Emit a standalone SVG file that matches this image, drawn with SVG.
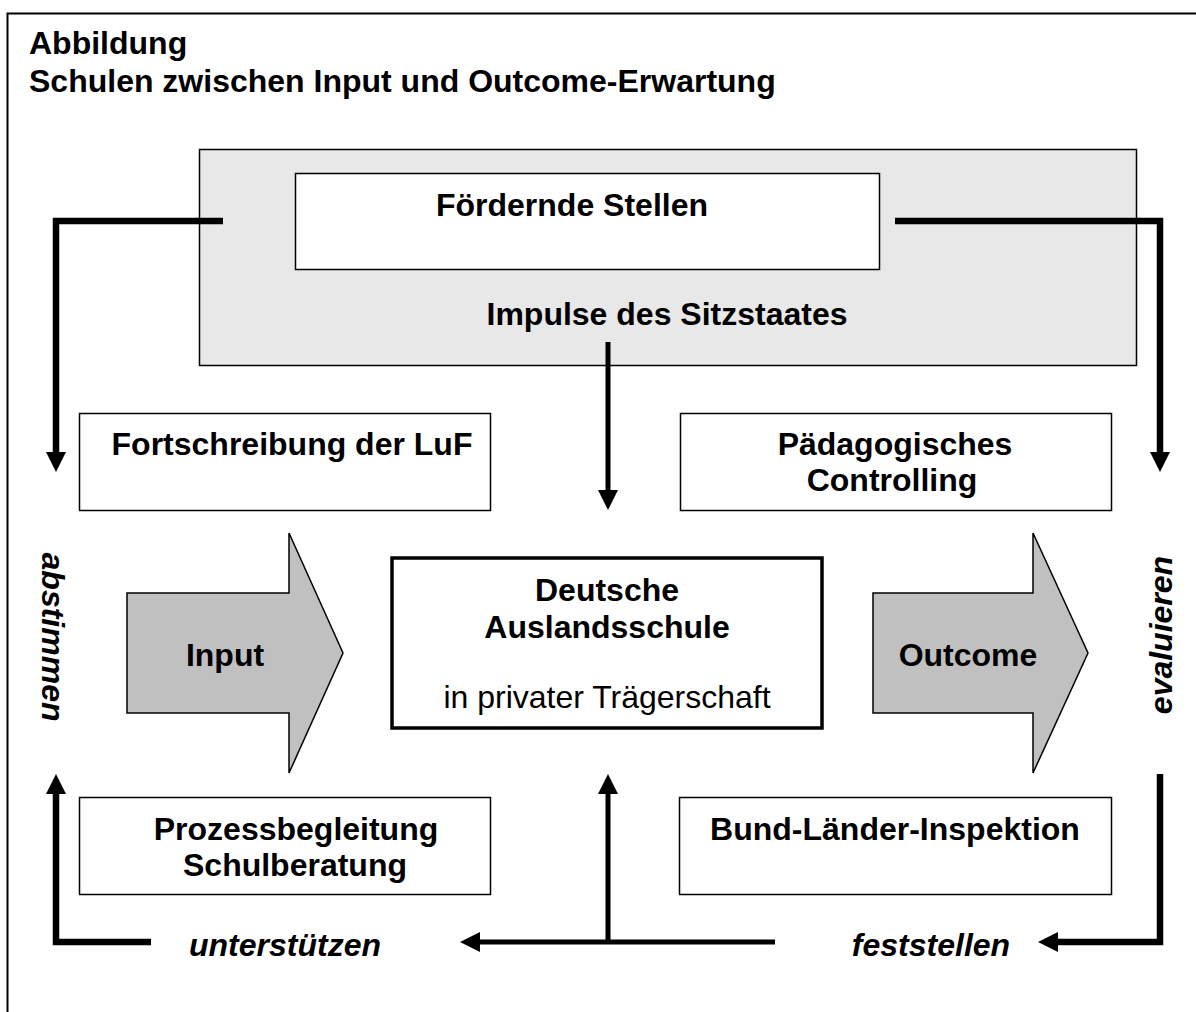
<svg xmlns="http://www.w3.org/2000/svg" width="1196" height="1012" viewBox="0 0 1196 1012">
  <style>
    .frame { fill: none; stroke: #000; stroke-width: 2; }
    .box { fill: #fff; stroke: #000; stroke-width: 1.5; }
    .panel { fill: #e8e8e8; stroke: #000; stroke-width: 1.5; }
    .core { fill: #fff; stroke: #000; stroke-width: 3.5; }
    .bigarrow { fill: #c0c0c0; stroke: #000; stroke-width: 1.5; stroke-linejoin: miter; }
    .t { font-family: "Liberation Sans", Arial, sans-serif; font-size: 32px; fill: #000; text-anchor: middle; }
    .b { font-weight: bold; }
    .i { font-weight: bold; font-style: italic; }
    .title { font-family: "Liberation Sans", Arial, sans-serif; font-size: 32px; font-weight: bold; fill: #000; }
    .conn { fill: none; stroke: #000; stroke-linejoin: miter; stroke-linecap: butt; marker-end: url(#head); }
    .thick { stroke-width: 6.5; }
    .mid { stroke-width: 5; }
  </style>
  <defs>
    <marker id="head" markerUnits="userSpaceOnUse" markerWidth="20" markerHeight="20" refX="0" refY="9" orient="auto" viewBox="0 0 18 18">
      <path d="M0,0 L18,9 L0,18 z" fill="#000"/>
    </marker>
  </defs>

  <rect width="1196" height="1012" fill="#fff"/>
  <!-- page frame (continues past the right and bottom edges) -->
  <path class="frame" d="M7.5,1012 V13.5 H1196"/>

  <g id="title">
    <text class="title" x="29" y="54">Abbildung</text>
    <text class="title" x="29" y="92">Schulen zwischen Input und Outcome-Erwartung</text>
  </g>

  <g id="sitzstaat">
    <rect class="panel" x="199.5" y="149.5" width="937" height="216"/>
    <text class="t b" x="667" y="325">Impulse des Sitzstaates</text>
  </g>

  <g id="foerdernde-stellen">
    <rect class="box" x="295.5" y="173.5" width="584" height="96"/>
    <text class="t b" x="572" y="216">Fördernde Stellen</text>
  </g>

  <g id="fortschreibung">
    <rect class="box" x="79.5" y="413.5" width="411" height="97"/>
    <text class="t b" x="292" y="455">Fortschreibung der LuF</text>
  </g>

  <g id="controlling">
    <rect class="box" x="680.5" y="413.5" width="431" height="97"/>
    <text class="t b" x="895" y="455">Pädagogisches</text>
    <text class="t b" x="892" y="491">Controlling</text>
  </g>

  <g id="input">
    <path class="bigarrow" d="M127,593 H289 V533 L343,653 L289,773 V713 H127 Z"/>
    <text class="t b" x="225" y="666">Input</text>
  </g>

  <g id="schule">
    <rect class="core" x="392" y="558" width="430" height="170"/>
    <text class="t b" x="607" y="601">Deutsche</text>
    <text class="t b" x="607" y="638">Auslandsschule</text>
    <text class="t" x="607" y="708">in privater Trägerschaft</text>
  </g>

  <g id="outcome">
    <path class="bigarrow" d="M873,593 H1033 V533 L1088,653 L1033,773 V713 H873 Z"/>
    <text class="t b" x="968" y="666">Outcome</text>
  </g>

  <g id="prozessbegleitung">
    <rect class="box" x="79.5" y="797.5" width="411" height="97"/>
    <text class="t b" x="296" y="840">Prozessbegleitung</text>
    <text class="t b" x="295" y="876">Schulberatung</text>
  </g>

  <g id="inspektion">
    <rect class="box" x="679.5" y="797.5" width="432" height="97"/>
    <text class="t b" x="895" y="840">Bund-Länder-Inspektion</text>
  </g>

  <g id="labels">
    <text class="t i" transform="translate(42,637) rotate(90)">abstimmen</text>
    <text class="t i" transform="translate(1172,635) rotate(-90)">evaluieren</text>
    <text class="t i" x="285" y="956">unterstützen</text>
    <text class="t i" x="931" y="956">feststellen</text>
  </g>

  <g id="connectors">
    <path class="conn thick" d="M223,221 H56 V452"/>
    <path class="conn thick" d="M895,221 H1160 V452"/>
    <path class="conn mid" d="M608,342 V490"/>
    <path class="conn thick" d="M151,942 H56 V794"/>
    <path class="conn mid" d="M775,942 H480"/>
    <path class="conn mid" d="M608,942 V794"/>
    <path class="conn thick" d="M1160,774 V942 H1058"/>
  </g>
</svg>
